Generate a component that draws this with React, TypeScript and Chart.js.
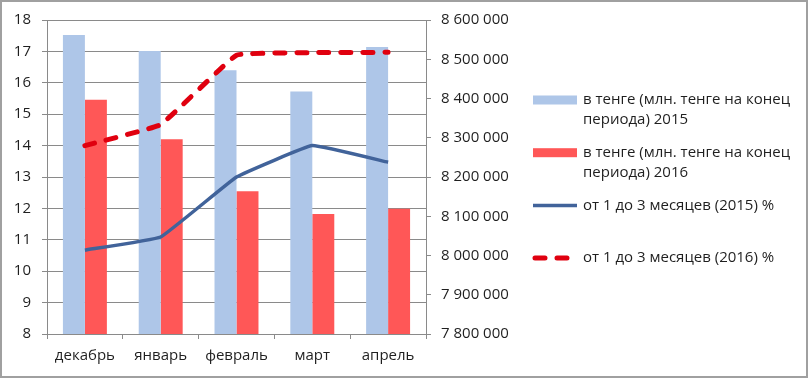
import React, { useEffect, useRef } from "react";
import { Chart, registerables } from "chart.js";

Chart.register(...registerables);

const categories = ["декабрь", "январь", "февраль", "март", "апрель"];
const tenge2015 = [8562000, 8521000, 8472000, 8418000, 8531000];
const tenge2016 = [8397000, 8296000, 8164000, 8106000, 8119000];
const rate2015 = [10.67, 11.09, 13.0, 14.0, 13.47];
const rate2016 = [14.0, 14.67, 16.88, 16.96, 16.97];

const seriesLabels = [
  "в тенге (млн. тенге на конец периода) 2015",
  "в тенге (млн. тенге на конец периода) 2016",
  "от 1 до 3 месяцев (2015) %",
  "от 1 до 3 месяцев (2016) %",
];
const legendLines = [
  ["в тенге (млн. тенге на конец", "периода) 2015"],
  ["в тенге (млн. тенге на конец", "периода) 2016"],
  ["от 1 до 3 месяцев (2015) %"],
  ["от 1 до 3 месяцев (2016) %"],
];

const FONT = "'Open Sans', sans-serif";
const TEXT = "#1f1f1f";
const GRID = "#8a8a8a";
const C_BLUE_BAR = "#aec6e8";
const C_RED_BAR = "#ff5757";
const C_BLUE_LINE = "#41639a";
const C_RED_LINE = "#e0000f";
const RED_DASH = [10, 12];

const fmt = (v: number) => String(v).replace(/\B(?=(\d{3})+(?!\d))/g, " ");

const framePlugin = {
  id: "frame",
  beforeDraw(chart: any) {
    const ctx = chart.ctx;
    ctx.save();
    ctx.fillStyle = "#ffffff";
    ctx.fillRect(0, 0, chart.width, chart.height);
    ctx.strokeStyle = "#a0a0a0";
    ctx.lineWidth = 2;
    ctx.strokeRect(1, 1, chart.width - 4, chart.height - 4);
    ctx.restore();
  },
};

const legendPlugin = {
  id: "customLegend",
  afterDraw(chart: any) {
    const ctx = chart.ctx;
    ctx.save();
    const x0 = 533;
    const w = 44;
    const tx = 583;
    chart.data.datasets.forEach((ds: any, i: number) => {
      const y = 100 + i * 52.7;
      if (ds.type === "bar") {
        ctx.fillStyle = ds.backgroundColor;
        ctx.fillRect(x0, y - 4.5, w, 9);
      } else {
        ctx.strokeStyle = ds.borderColor;
        ctx.lineWidth = ds.borderWidth;
        ctx.lineCap = ds.borderCapStyle || "butt";
        ctx.setLineDash(ds.borderDash || []);
        ctx.beginPath();
        ctx.moveTo(x0 + (ds.borderDash ? 2 : 0), y);
        ctx.lineTo(x0 + w, y);
        ctx.stroke();
        ctx.setLineDash([]);
      }
      ctx.fillStyle = TEXT;
      ctx.font = `15px ${FONT}`;
      ctx.textBaseline = "middle";
      ctx.textAlign = "left";
      legendLines[i].forEach((t, j) => ctx.fillText(t, tx, y + j * 20));
    });
    ctx.restore();
  },
};

export default function App() {
  const ref = useRef<HTMLCanvasElement>(null);
  useEffect(() => {
    if (!ref.current) return;
    const chart = new Chart(ref.current, {
      type: "bar",
      data: {
        labels: categories,
        datasets: [
          {
            type: "bar",
            label: seriesLabels[0],
            data: tenge2015,
            backgroundColor: C_BLUE_BAR,
            yAxisID: "y1",
            order: 2,
            categoryPercentage: 0.58,
            barPercentage: 1,
          },
          {
            type: "bar",
            label: seriesLabels[1],
            data: tenge2016,
            backgroundColor: C_RED_BAR,
            yAxisID: "y1",
            order: 2,
            categoryPercentage: 0.58,
            barPercentage: 1,
          },
          {
            type: "line",
            label: seriesLabels[2],
            data: rate2015,
            borderColor: C_BLUE_LINE,
            backgroundColor: C_BLUE_LINE,
            borderWidth: 3.5,
            pointRadius: 0,
            tension: 0.08,
            yAxisID: "y",
            order: 1,
          },
          {
            type: "line",
            label: seriesLabels[3],
            data: rate2016,
            borderColor: C_RED_LINE,
            backgroundColor: C_RED_LINE,
            borderWidth: 5,
            borderDash: RED_DASH,
            borderCapStyle: "round",
            pointRadius: 0,
            tension: 0.08,
            yAxisID: "y",
            order: 0,
          },
        ] as any,
      },
      options: {
        responsive: false,
        animation: false,
        layout: { autoPadding: false, padding: { left: 0, right: 284, top: 19, bottom: 0 } } as any,
        plugins: { legend: { display: false }, tooltip: { enabled: false } },
        scales: {
          x: {
            type: "category",
            offset: true,
            grid: { offset: true, drawOnChartArea: false, tickLength: 5, color: GRID },
            border: { color: GRID },
            ticks: { color: TEXT, font: { family: FONT, size: 15 }, padding: 8, maxRotation: 0 },
            afterFit(scale: any) {
              scale.height = 46;
            },
          },
          y: {
            position: "left",
            min: 8,
            max: 18,
            ticks: { stepSize: 1, color: TEXT, font: { family: FONT, size: 15 }, padding: 11 },
            grid: { color: GRID, tickLength: 5 },
            border: { color: GRID },
            afterFit(scale: any) {
              scale.width = 47;
            },
          },
          y1: {
            position: "right",
            min: 7800000,
            max: 8600000,
            ticks: {
              stepSize: 100000,
              color: TEXT,
              font: { family: FONT, size: 15 },
              padding: 10,
              callback: (v: any) => fmt(Number(v)),
            },
            grid: { drawOnChartArea: false, color: GRID, tickLength: 5 },
            border: { color: GRID },
            afterFit(scale: any) {
              scale.width = 100;
            },
          },
        },
      } as any,
      plugins: [framePlugin, legendPlugin],
    });
    return () => chart.destroy();
  }, []);
  return (
    <div style={{ position: "absolute", left: 0, top: 0, width: 810, height: 380 }}>
      <canvas ref={ref} width={810} height={380} style={{ display: "block" }} />
    </div>
  );
}
